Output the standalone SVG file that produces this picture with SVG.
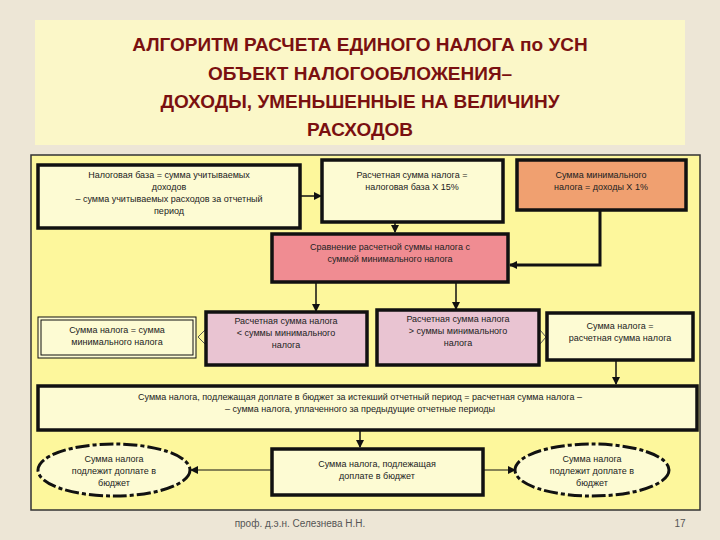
<svg xmlns="http://www.w3.org/2000/svg" width="720" height="540" viewBox="0 0 720 540">
<defs>
<style>
.t{font-family:"Liberation Sans",Arial,sans-serif;font-size:9px;fill:#222;text-anchor:middle}
.h{font-family:"Liberation Sans",Arial,sans-serif;font-size:19px;font-weight:bold;fill:#7a1010;text-anchor:middle}
.b{stroke:#111;stroke-width:3.5}
.c{stroke:#111;stroke-width:1.5;fill:none}
</style>
<marker id="a" markerWidth="8" markerHeight="8" refX="7" refY="4" orient="auto" markerUnits="userSpaceOnUse"><path d="M0,0 L8,4 L0,8 z" fill="#111"/></marker>
</defs>
<rect width="720" height="540" fill="#ede6d6"/>
<rect x="35" y="20" width="650" height="125" fill="#fbf7c8"/>
<text class="h" x="360" y="51">АЛГОРИТМ РАСЧЕТА ЕДИНОГО НАЛОГА по УСН</text>
<text class="h" x="360" y="80">ОБЪЕКТ   НАЛОГООБЛОЖЕНИЯ–</text>
<text class="h" x="360" y="108">ДОХОДЫ, УМЕНЬШЕННЫЕ НА ВЕЛИЧИНУ</text>
<text class="h" x="360" y="136">РАСХОДОВ</text>
<rect x="31" y="155" width="669" height="355" fill="#fdf79c" stroke="#333" stroke-width="1.5"/>
<g id="connectors">
<line class="c" x1="300" y1="196" x2="321" y2="196" marker-end="url(#a)"/>
<line class="c" x1="395" y1="222" x2="395" y2="232" marker-end="url(#a)"/>
<polyline points="600,210 600,265 510,265" fill="none" stroke="#111" stroke-width="3" marker-end="url(#a)"/>
<line class="c" x1="316" y1="283" x2="316" y2="311" marker-end="url(#a)"/>
<line class="c" x1="456" y1="283" x2="456" y2="309" marker-end="url(#a)"/>
<path d="M205,330 L198,337 L205,344" fill="none" stroke="#555" stroke-width="1"/>
<path d="M540,330 L546,337 L540,344" fill="none" stroke="#555" stroke-width="1"/>
<line class="c" x1="616" y1="361" x2="616" y2="384" marker-end="url(#a)"/>
<line class="c" x1="360" y1="431" x2="360" y2="447" marker-end="url(#a)"/>
<line stroke="#111" stroke-width="1" x1="272" y1="470" x2="191" y2="470" marker-end="url(#a)"/>
<line stroke="#111" stroke-width="1" x1="483" y1="470" x2="515" y2="470" marker-end="url(#a)"/>
</g>
<g id="n1"><rect class="b" x="38" y="165" width="262" height="63" fill="#fdfbd3"/>
<text class="t" x="169" y="178">Налоговая база = сумма учитываемых</text><text class="t" x="169" y="190">доходов</text><text class="t" x="169" y="202">– сумма учитываемых расходов за отчетный</text><text class="t" x="169" y="214">период</text></g>
<g id="n2"><rect class="b" x="322" y="160" width="181" height="62" fill="#fdfbd3"/>
<text class="t" x="412" y="178">Расчетная сумма налога =</text><text class="t" x="412" y="190">налоговая база Х 15%</text></g>
<g id="n3"><rect class="b" x="517" y="160" width="169" height="50" fill="#f0a070"/>
<text class="t" x="601" y="178">Сумма минимального</text><text class="t" x="601" y="190">налога = доходы Х 1%</text></g>
<g id="n4"><rect class="b" x="272" y="234" width="236" height="48" fill="#f08c92"/>
<text class="t" x="390" y="250">Сравнение расчетной суммы налога с</text><text class="t" x="390" y="262">суммой минимального налога</text></g>
<g id="n5"><rect x="38" y="317" width="158" height="41" fill="#fdfbd3" stroke="#111" stroke-width="1"/><rect x="41" y="320" width="152" height="35" fill="none" stroke="#111" stroke-width="1"/>
<text class="t" x="117" y="333">Сумма налога = сумма</text><text class="t" x="117" y="345">минимального налога</text></g>
<g id="n6"><rect class="b" x="206" y="312" width="161" height="53" fill="#e9c4d2"/>
<text class="t" x="286" y="324">Расчетная сумма налога</text><text class="t" x="286" y="336">&lt; суммы минимального</text><text class="t" x="286" y="348">налога</text></g>
<g id="n7"><rect class="b" x="377" y="310" width="162" height="55" fill="#e9c4d2"/>
<text class="t" x="458" y="322">Расчетная сумма налога</text><text class="t" x="458" y="334">&gt; суммы минимального</text><text class="t" x="458" y="346">налога</text></g>
<g id="n8"><rect class="b" x="547" y="313" width="146" height="47" fill="#fdfbd3"/>
<text class="t" x="620" y="329">Сумма налога =</text><text class="t" x="620" y="341">расчетная сумма налога</text></g>
<g id="n9"><rect class="b" x="38" y="386" width="659" height="44" fill="#fdfbd3"/>
<text class="t" x="360" y="400">Сумма налога, подлежащая доплате в бюджет за истекший отчетный  период = расчетная сумма налога –</text><text class="t" x="360" y="412">–  сумма налога, уплаченного за предыдущие отчетные периоды</text></g>
<g id="n10"><ellipse cx="114" cy="470" rx="76" ry="26" fill="#fdfbd3" stroke="#111" stroke-width="3" stroke-dasharray="14 3 4 3"/>
<text class="t" x="114" y="462">Сумма налога</text><text class="t" x="114" y="474">подлежит доплате в</text><text class="t" x="114" y="486">бюджет</text></g>
<g id="n11"><rect class="b" x="272" y="449" width="211" height="46" fill="#fdfbd3"/>
<text class="t" x="377" y="467">Сумма налога, подлежащая</text><text class="t" x="377" y="479">доплате в бюджет</text></g>
<g id="n12"><ellipse cx="592" cy="470" rx="77" ry="26" fill="#fdfbd3" stroke="#111" stroke-width="3" stroke-dasharray="14 3 4 3"/>
<text class="t" x="592" y="462">Сумма налога</text><text class="t" x="592" y="474">подлежит доплате в</text><text class="t" x="592" y="486">бюджет</text></g>
<text x="300" y="527" style="font-family:'Liberation Sans',sans-serif;font-size:10px;fill:#555;text-anchor:middle">проф. д.э.н. Селезнева Н.Н.</text>
<text x="680" y="527" style="font-family:'Liberation Sans',sans-serif;font-size:10px;fill:#555;text-anchor:middle">17</text>
</svg>
